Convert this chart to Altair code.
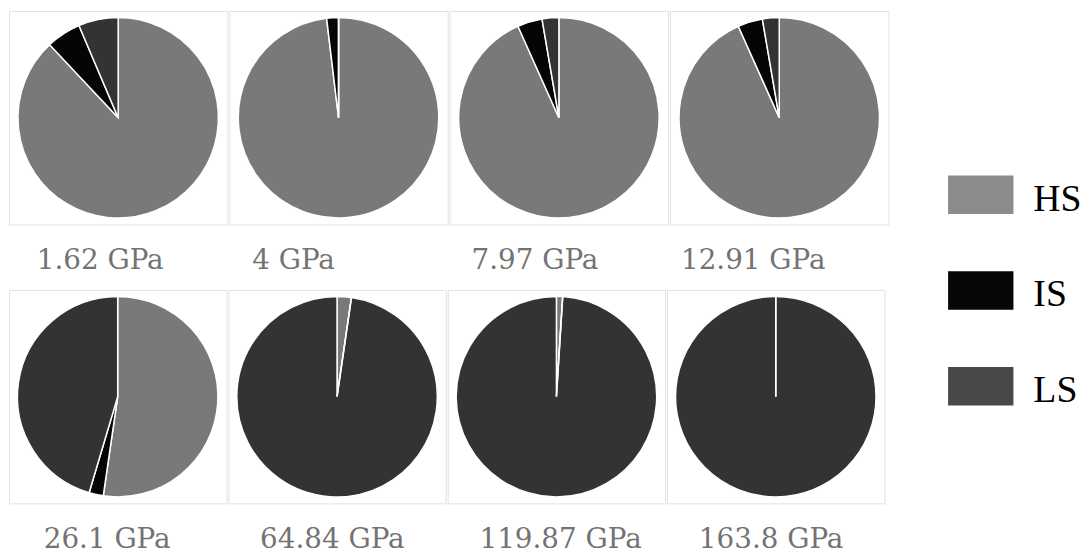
import altair as alt
import pandas as pd

# ---- data (percent of each phase) ----
labels = ["1.62 GPa", "4 GPa", "7.97 GPa", "12.91 GPa",
          "26.1 GPa", "64.84 GPa", "119.87 GPa", "163.8 GPa"]
hs = [88.0, 98.1, 93.3, 93.3, 52.3, 2.3, 1.0, 0.0]
is_ = [5.6, 1.9, 4.0, 4.0, 2.3, 0.0, 0.0, 0.0]
ls = [6.4, 0.0, 2.7, 2.7, 45.4, 97.7, 99.0, 100.0]

phases = ["HS", "IS", "LS"]
pie_colors = ["#7b7977", "#050505", "#333333"]
legend_colors = ["#8c8c8c", "#070707", "#484848"]

# left offset of each caption inside its panel
label_dx = [28, 23, 22, 11, 35, 32, 32, 32]

rows = []
for i, lab in enumerate(labels):
    for k, (ph, v) in enumerate(zip(phases, [hs[i], is_[i], ls[i]])):
        rows.append({"label": lab, "phase": ph, "value": v, "order": k, "empty": int(v == 0)})
# empty slices are drawn last so that their white edge stays visible
df = pd.DataFrame(rows).sort_values("empty", kind="stable").reset_index(drop=True)


def pie(i, w, h):
    lab = labels[i]
    return (
        alt.Chart(df)
        .transform_filter(alt.datum.label == lab)
        .mark_arc(radius=101, stroke="white", strokeWidth=1.5)
        .encode(
            theta=alt.Theta("value:Q", stack=True),
            color=alt.Color("phase:N", scale=alt.Scale(domain=phases, range=pie_colors), legend=None),
            order=alt.Order("order:Q"),
        )
        .properties(
            width=w,
            height=h,
            view=alt.ViewBackground(stroke="#e2e2e2", strokeWidth=1),
            title=alt.TitleParams(
                text=lab,
                orient="bottom",
                anchor="start",
                font="DejaVu Serif",
                fontSize=28,
                fontWeight="normal",
                color="#737373",
                baseline="alphabetic",
                offset=45,
                dx=label_dx[i],
            ),
        )
    )


row1 = alt.hconcat(*[pie(i, 220, 215) for i in range(4)], spacing=0)
row2 = alt.hconcat(*[pie(i, 219, 215) for i in range(4, 8)], spacing=0)
grid = alt.vconcat(row1, row2, spacing=13)

leg_df = pd.DataFrame({"phase": phases})
leg_base = alt.Chart(leg_df).encode(
    y=alt.Y("phase:N", sort=phases, axis=None,
            scale=alt.Scale(type="point", domain=phases, range=[185, 378], padding=0))
)
swatch = leg_base.mark_point(
    shape="M-1.7,-1L1.7,-1L1.7,1L-1.7,1Z", filled=True, size=1500, opacity=1
).encode(
    x=alt.value(92),
    color=alt.Color("phase:N", scale=alt.Scale(domain=phases, range=legend_colors), legend=None),
)
text = leg_base.mark_text(
    align="left", baseline="middle", dy=5, font="Liberation Serif", fontSize=38, color="black"
).encode(x=alt.value(145), text="phase:N")
legend = (swatch + text).properties(
    width=195, height=430, view=alt.ViewBackground(strokeWidth=0)
)

chart = (
    alt.hconcat(grid, legend, spacing=0)
    .resolve_scale(color="independent")
    .properties(padding=0, background="white")
    .configure_view(strokeWidth=0)
)

chart.save("out.html", embed_options={"renderer": "svg", "actions": False})
